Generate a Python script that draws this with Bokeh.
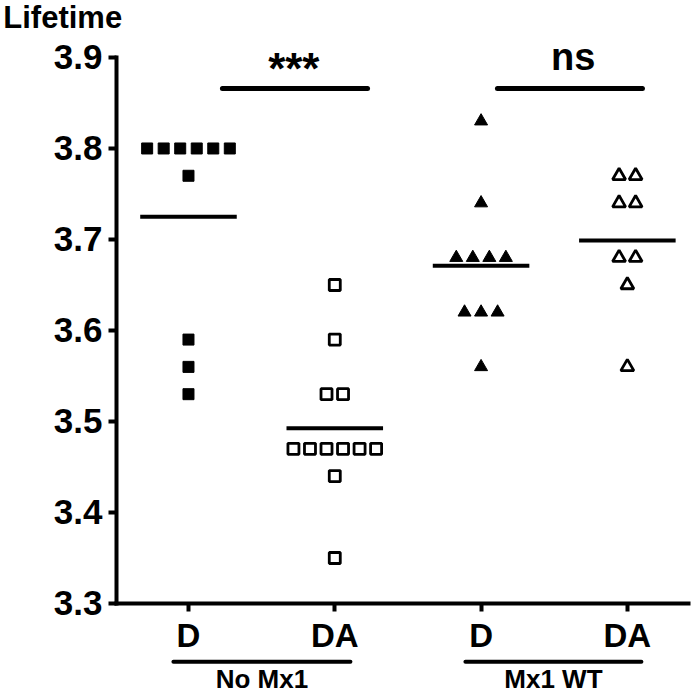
import numpy as np
from bokeh.plotting import figure
from bokeh.models import Range1d, FixedTicker, Label, ColumnDataSource
from bokeh.embed import file_html
from bokeh.resources import INLINE

# ---- data ----
categories = ["D", "DA", "D", "DA"]
groups = ["No Mx1", "Mx1 WT"]
nomx1_d = [3.80, 3.80, 3.80, 3.80, 3.80, 3.80, 3.77, 3.59, 3.56, 3.53]
nomx1_da = [3.65, 3.59, 3.53, 3.53, 3.47, 3.47, 3.47, 3.47, 3.47, 3.47, 3.44, 3.35]
mx1_d = [3.83, 3.74, 3.68, 3.68, 3.68, 3.68, 3.62, 3.62, 3.62, 3.56]
mx1_da = [3.77, 3.77, 3.74, 3.74, 3.68, 3.68, 3.65, 3.56]
y_ticks = [3.3, 3.4, 3.5, 3.6, 3.7, 3.8, 3.9]
sig_labels = ["***", "ns"]

FONT = "Liberation Sans"
STEP = 0.113   # horizontal spacing of tied points (x units)
HALF = 0.33    # half width of mean line
X0, Y0 = 0.508, 3.3   # axis origin

def swarm(values, center):
    vals = np.array(values)
    xs = np.zeros(len(vals))
    for v in np.unique(vals):
        idx = np.where(vals == v)[0]
        n = len(idx)
        xs[idx] = center + (np.arange(n) - (n - 1) / 2) * STEP
    return xs, vals

p = figure(width=700, height=695, output_backend="svg", toolbar_location=None,
           x_range=Range1d(-0.285, 4.50), y_range=Range1d(3.1989, 3.9626),
           min_border=0)
p.outline_line_color = None
p.xgrid.visible = False
p.ygrid.visible = False
p.background_fill_color = "white"
p.border_fill_color = "white"

# axes
for ax in (p.xaxis[0], p.yaxis[0]):
    ax.axis_line_width = 4
    ax.axis_line_color = "black"
    ax.axis_line_cap = "square"
    ax.major_tick_line_width = 4
    ax.major_tick_line_color = "black"
    ax.major_tick_out = 8
    ax.major_tick_in = 0
    ax.minor_tick_line_color = None
    ax.major_label_text_font = FONT
    ax.major_label_text_font_style = "bold"
    ax.major_label_text_color = "black"
p.yaxis.fixed_location = X0
p.yaxis.bounds = (3.3, 3.9)
p.yaxis.ticker = FixedTicker(ticks=y_ticks)
p.yaxis.major_label_overrides = {t: f"{t:.1f}" for t in y_ticks}
p.yaxis.major_label_text_font_size = "35px"
p.yaxis.major_label_standoff = 6
p.xaxis.fixed_location = Y0
p.xaxis.bounds = (X0, 4.42)
p.xaxis.ticker = FixedTicker(ticks=[1, 2, 3, 4])
p.xaxis.major_label_overrides = {i + 1: c for i, c in enumerate(categories)}
p.xaxis.major_label_text_font_size = "33px"
p.xaxis.major_label_standoff = 6

series = [
    (nomx1_d, 1, "square", "black"),
    (nomx1_da, 2, "square", "white"),
    (mx1_d, 3, "triangle", "black"),
    (mx1_da, 4, "triangle", "white"),
]
for vals, c, marker, fill in series:
    xs, ys = swarm(vals, c)
    src = ColumnDataSource(dict(x=xs, y=ys))
    size = 11 if marker == "square" else 13
    lw = 1 if fill == "black" else 2.8
    p.scatter("x", "y", source=src, marker=marker, size=size,
              fill_color=fill, line_color="black", line_width=lw)
    m = float(np.mean(vals))
    p.segment(x0=[c - HALF], y0=[m], x1=[c + HALF], y1=[m],
              line_color="black", line_width=4)

# significance bars
sig_y = 3.866
p.segment(x0=[1.232, 3.112], y0=[sig_y, sig_y], x1=[2.224, 4.103], y1=[sig_y, sig_y],
          line_color="black", line_width=5, line_cap="round")
p.add_layout(Label(x=1.72, y=sig_y + 0.022, text=sig_labels[0], text_font=FONT,
                   text_font_style="bold", text_font_size="44px", text_color="black",
                   text_align="center", text_baseline="alphabetic"))
p.add_layout(Label(x=3.63, y=sig_y + 0.034, text=sig_labels[1], text_font=FONT,
                   text_font_style="bold", text_font_size="38px", text_color="black",
                   text_align="center", text_baseline="alphabetic"))

# group underlines and labels
under = [(0.897, 2.107), (2.893, 4.096)]
p.segment(x0=[u[0] for u in under], y0=[3.236] * 2, x1=[u[1] for u in under],
          y1=[3.236] * 2, line_color="black", line_width=4, line_cap="round")
for (x0, x1), g in zip(under, groups):
    p.add_layout(Label(x=(x0 + x1) / 2, y=3.2175, text=g, text_font=FONT,
                       text_font_style="bold", text_font_size="26px", text_color="black",
                       text_align="center", text_baseline="middle"))

# y axis title
p.add_layout(Label(x=-0.266, y=3.9635, text="Lifetime", text_font=FONT,
                   text_font_style="bold", text_font_size="31px", text_color="black",
                   text_align="left", text_baseline="top"))

open("out.html", "w").write(file_html(p, INLINE))
